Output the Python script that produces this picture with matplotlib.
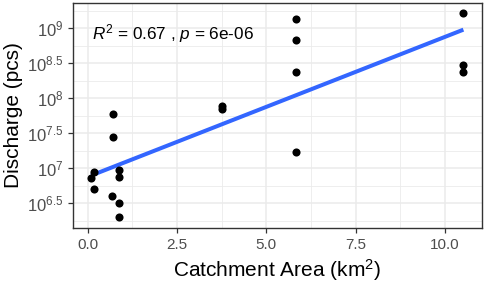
import numpy as np
import matplotlib
matplotlib.use("Agg")
import matplotlib.pyplot as plt

plt.rcParams['font.family'] = ['Liberation Sans', 'DejaVu Sans']
plt.rcParams['mathtext.fontset'] = 'custom'
plt.rcParams['mathtext.rm'] = 'Liberation Sans'
plt.rcParams['mathtext.it'] = 'Liberation Sans:italic'
plt.rcParams['mathtext.bf'] = 'Liberation Sans:bold'

# Data (catchment area in km^2, discharge as log10 of pcs)
catchment_area = [0.17, 0.10, 0.19,
                  0.70, 0.71, 0.68,
                  0.89, 0.89, 0.89, 0.89,
                  3.76, 3.76,
                  5.84, 5.84, 5.84, 5.84,
                  10.51, 10.51, 10.51]
log10_discharge = [6.95, 6.86, 6.70,
                   7.78, 7.44, 6.61,
                   6.97, 6.87, 6.50, 6.30,
                   7.89, 7.84,
                   9.13, 8.83, 8.37, 7.23,
                   9.22, 8.48, 8.38]
x_ticks = [0.0, 2.5, 5.0, 7.5, 10.0]
x_tick_labels = ["0.0", "2.5", "5.0", "7.5", "10.0"]
y_ticks = [6.5, 7.0, 7.5, 8.0, 8.5, 9.0]
y_tick_labels = [r"$10^{6.5}$", r"$10^{7}$", r"$10^{7.5}$", r"$10^{8}$", r"$10^{8.5}$", r"$10^{9}$"]
annotation = r"$R^2$ = 0.67 , $p$ = 6e-06"

x = np.array(catchment_area)
y = np.array(log10_discharge)

fig = plt.figure(figsize=(4.84, 2.87), dpi=100)
ax = fig.add_axes([72.5/484, 59.5/287, (482-72.5)/484, (284.5-59.5)/287])

# limits with ggplot-like 5% expansion
xr = x.max() - x.min()
yr = y.max() - y.min()
ax.set_xlim(x.min() - 0.05*xr, x.max() + 0.05*xr)
ax.set_ylim(y.min() - 0.05*yr, y.max() + 0.05*yr)

# grid
grid_c = "#EBEBEB"
for v in [1.25, 3.75, 6.25, 8.75]:
    ax.axvline(v, color=grid_c, lw=0.6, zorder=0)
for v in [6.25, 6.75, 7.25, 7.75, 8.25, 8.75, 9.25]:
    ax.axhline(v, color=grid_c, lw=0.6, zorder=0)
for v in x_ticks:
    ax.axvline(v, color=grid_c, lw=1.1, zorder=0)
for v in y_ticks:
    ax.axhline(v, color=grid_c, lw=1.1, zorder=0)

# regression line
b, a = np.polyfit(x, y, 1)
xs = np.array([x.min(), x.max()])
ax.plot(xs, a + b*xs, color="#3366FF", lw=2.9, solid_capstyle='butt', zorder=2)

ax.scatter(x, y, s=34, color="black", zorder=3, linewidths=0)

ax.text(0.13, 8.92, annotation, fontsize=12.3, va='center', ha='left', color='black')

ax.set_xticks(x_ticks)
ax.set_xticklabels(x_tick_labels)
ax.set_yticks(y_ticks)
ax.set_yticklabels(y_tick_labels)
ax.tick_params(axis='both', colors="#333333", length=3.5, width=0.9,
               labelcolor="#4D4D4D")
ax.tick_params(axis='x', labelsize=11, pad=4)
ax.tick_params(axis='y', labelsize=12, pad=3)

for s in ax.spines.values():
    s.set_color("#333333")
    s.set_linewidth(1.0)

ax.set_xlabel(r"Catchment Area (km$^2$)", fontsize=15)
ax.set_ylabel("Discharge (pcs)", fontsize=15)
ax.xaxis.set_label_coords(0.5, -0.19)
ax.yaxis.set_label_coords(-0.143, 0.5)
ax.xaxis.label.set_va('center')
ax.yaxis.label.set_va('center')

fig.savefig("out.png", dpi=100)
